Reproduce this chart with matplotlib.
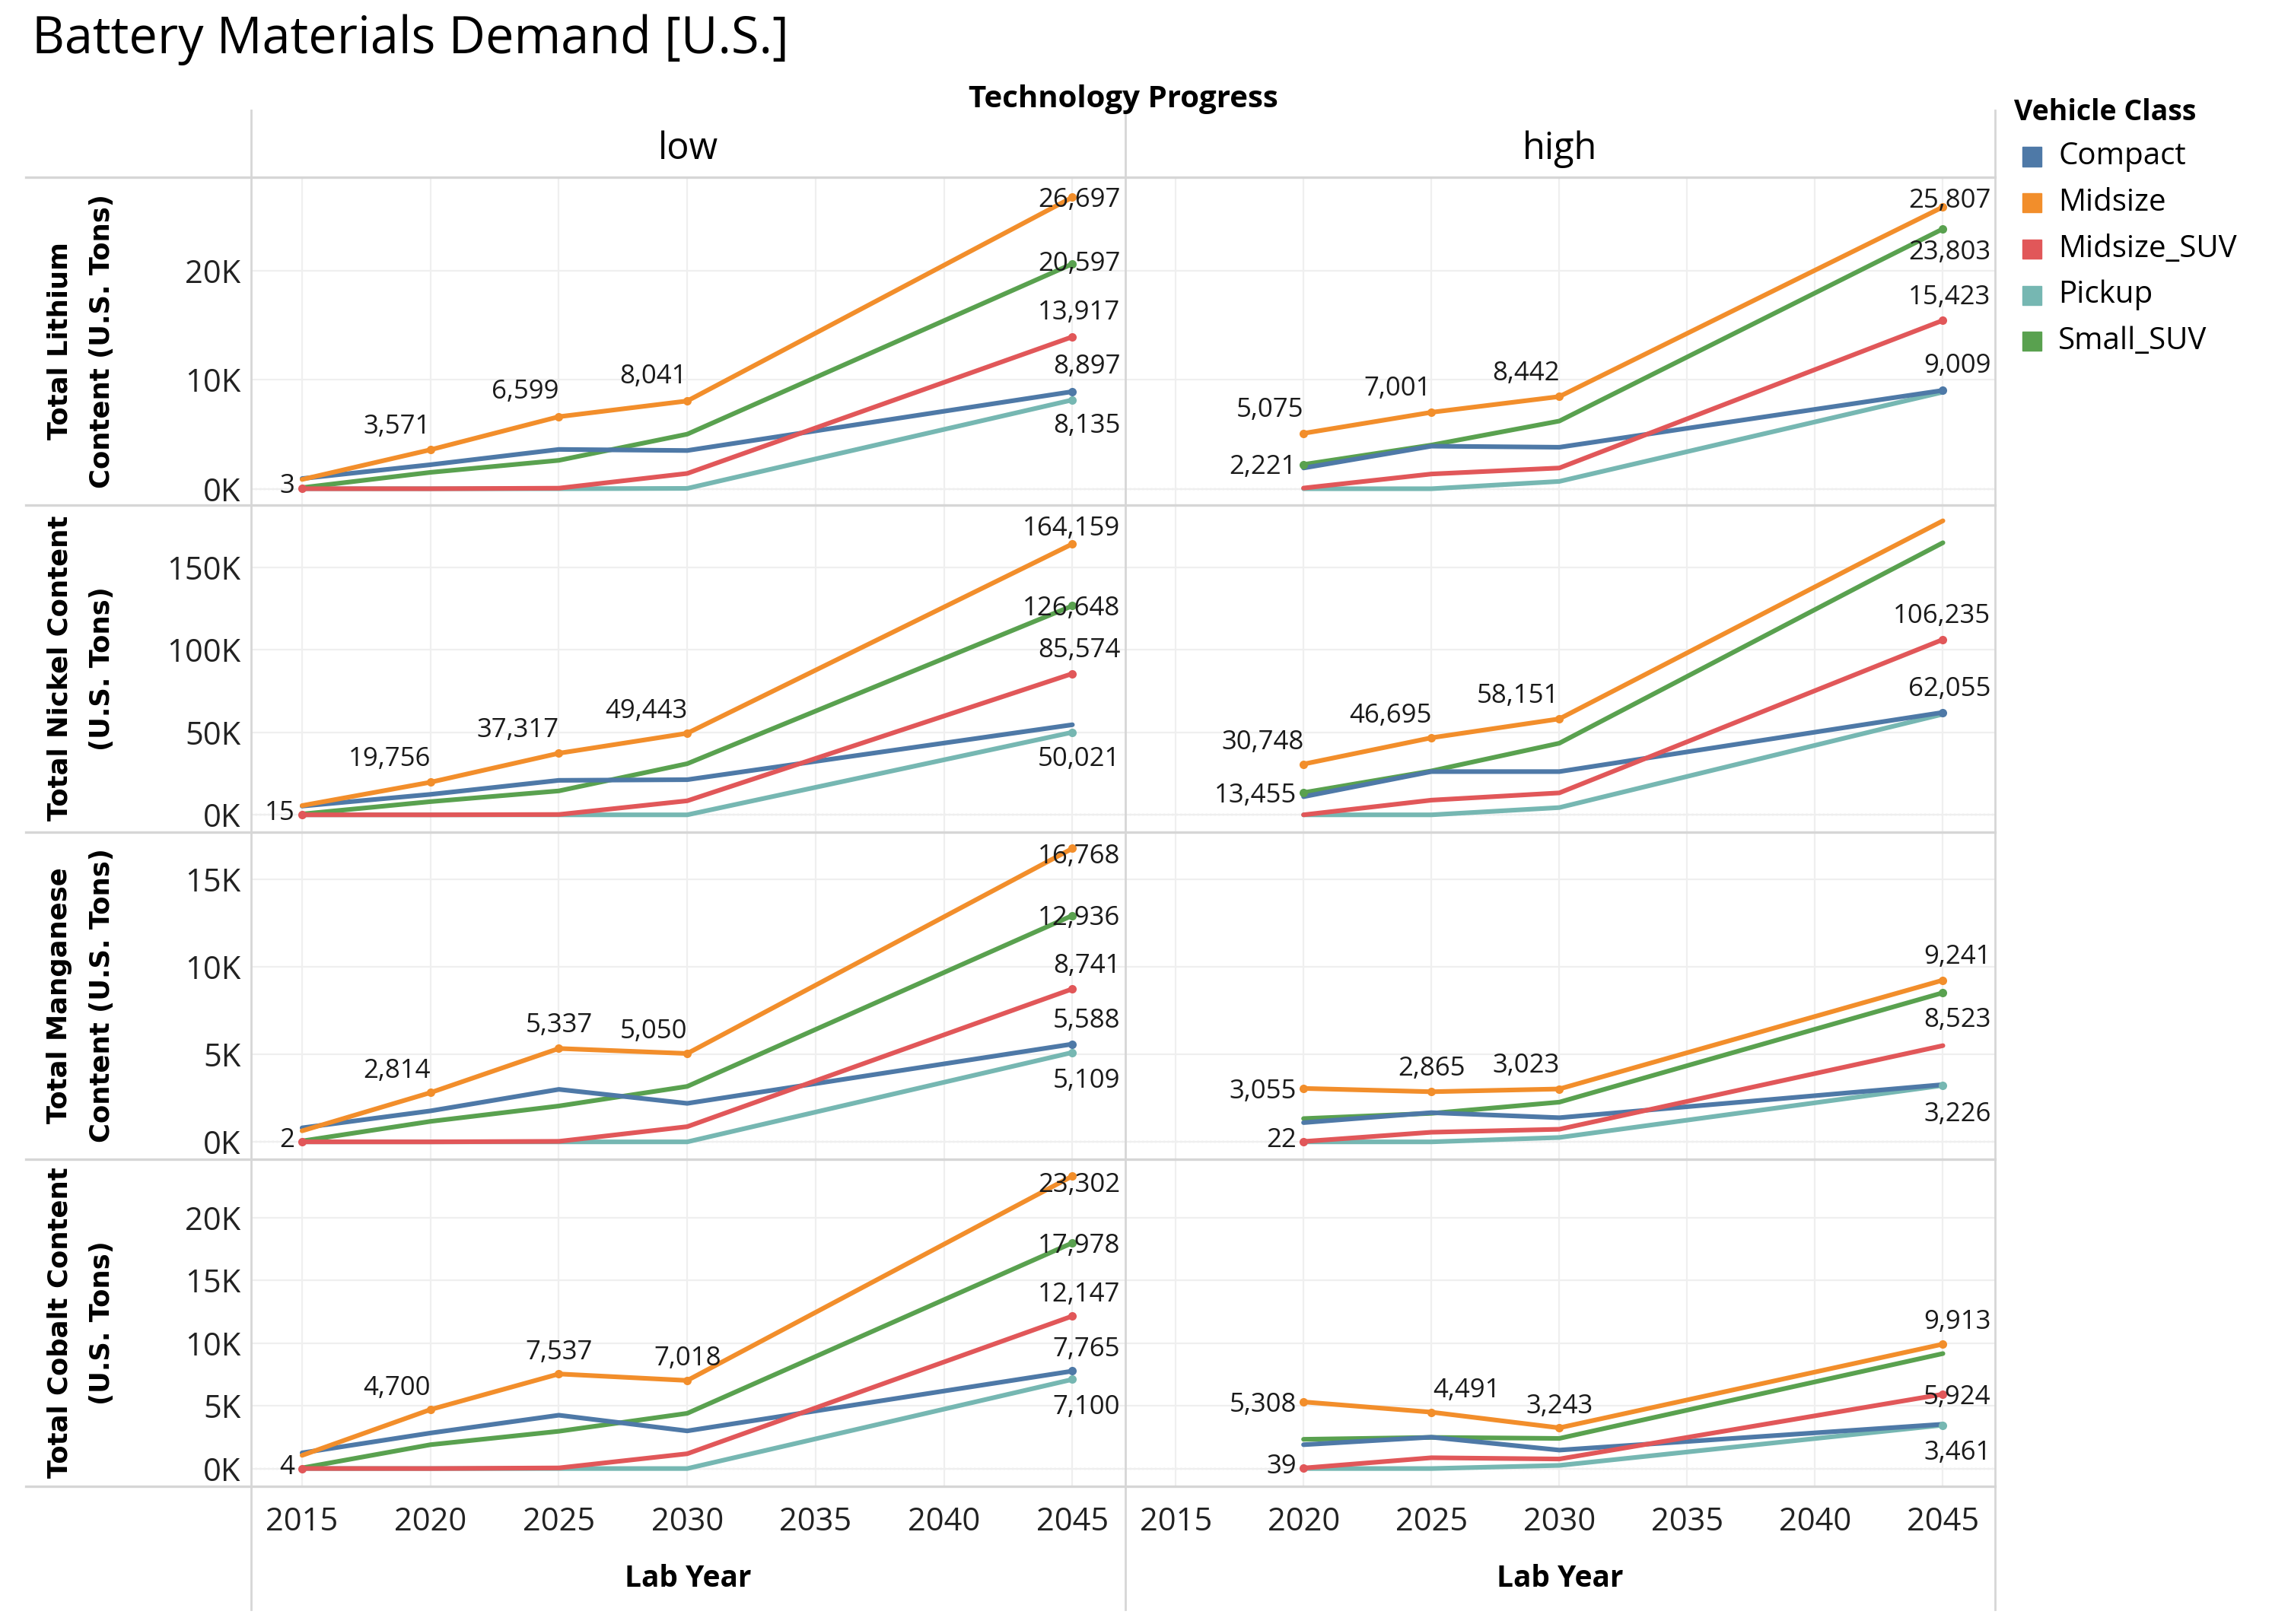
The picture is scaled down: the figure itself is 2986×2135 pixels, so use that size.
import matplotlib
matplotlib.use("Agg")
import matplotlib.pyplot as plt
from matplotlib.lines import Line2D
from matplotlib.patches import Rectangle

# ---- data (U.S. tons) ----
years_low = [2015, 2020, 2025, 2030, 2045]
years_high = [2020, 2025, 2030, 2045]
classes = ["Compact", "Midsize", "Midsize_SUV", "Pickup", "Small_SUV"]

lithium_low = {
    "Compact": [930, 2200, 3600, 3500, 8897],
    "Midsize": [850, 3571, 6599, 8041, 26697],
    "Midsize_SUV": [3, 0, 50, 1400, 13917],
    "Pickup": [0, 0, 0, 30, 8135],
    "Small_SUV": [100, 1500, 2600, 5000, 20597],
}
lithium_high = {
    "Compact": [1900, 3900, 3800, 9009],
    "Midsize": [5075, 7001, 8442, 25807],
    "Midsize_SUV": [60, 1350, 1900, 15423],
    "Pickup": [0, 0, 670, 8850],
    "Small_SUV": [2221, 4000, 6200, 23803],
}
nickel_low = {
    "Compact": [5300, 12400, 20900, 21300, 54600],
    "Midsize": [5600, 19756, 37317, 49443, 164159],
    "Midsize_SUV": [15, 0, 200, 8500, 85574],
    "Pickup": [0, 0, 0, 0, 50021],
    "Small_SUV": [500, 8000, 14500, 31000, 126648],
}
nickel_high = {
    "Compact": [11000, 26200, 26200, 62055],
    "Midsize": [30748, 46695, 58151, 178200],
    "Midsize_SUV": [0, 8900, 13300, 106235],
    "Pickup": [0, 0, 4400, 61000],
    "Small_SUV": [13455, 26600, 43400, 164900],
}
manganese_low = {
    "Compact": [800, 1770, 3000, 2200, 5588],
    "Midsize": [630, 2814, 5337, 5050, 16768],
    "Midsize_SUV": [2, 0, 30, 870, 8741],
    "Pickup": [0, 0, 0, 0, 5109],
    "Small_SUV": [50, 1170, 2050, 3170, 12936],
}
manganese_high = {
    "Compact": [1100, 1670, 1380, 3270],
    "Midsize": [3055, 2865, 3023, 9241],
    "Midsize_SUV": [22, 550, 720, 5500],
    "Pickup": [0, 0, 250, 3226],
    "Small_SUV": [1330, 1630, 2270, 8523],
}
cobalt_low = {
    "Compact": [1250, 2830, 4250, 3000, 7765],
    "Midsize": [1050, 4700, 7537, 7018, 23302],
    "Midsize_SUV": [4, 0, 50, 1180, 12147],
    "Pickup": [0, 0, 0, 0, 7100],
    "Small_SUV": [50, 1900, 2970, 4400, 17978],
}
cobalt_high = {
    "Compact": [1900, 2500, 1470, 3530],
    "Midsize": [5308, 4491, 3243, 9913],
    "Midsize_SUV": [39, 860, 760, 5924],
    "Pickup": [0, 0, 250, 3461],
    "Small_SUV": [2330, 2480, 2400, 9160],
}

row_titles = [("Total Lithium", "Content (U.S. Tons)"),
              ("Total Nickel Content", "(U.S. Tons)"),
              ("Total Manganese", "Content (U.S. Tons)"),
              ("Total Cobalt Content", "(U.S. Tons)")]
row_ticks = [[0, 10000, 20000],
             [0, 50000, 100000, 150000],
             [0, 5000, 10000, 15000],
             [0, 5000, 10000, 15000, 20000]]
col_names = ["low", "high"]
x_ticks = [2015, 2020, 2025, 2030, 2035, 2040, 2045]

panels = [[lithium_low, lithium_high], [nickel_low, nickel_high],
          [manganese_low, manganese_high], [cobalt_low, cobalt_high]]

# ---- style ----
colors = {"Compact": "#4E79A7", "Midsize": "#F28E2B", "Midsize_SUV": "#E15759",
          "Pickup": "#76B7B2", "Small_SUV": "#59A14F"}
draw_order = ["Pickup", "Small_SUV", "Compact", "Midsize_SUV", "Midsize"]
ylims = [(-1470, 28530), (-10500, 187900), (-980, 17700), (-1410, 24660)]
xlim = (2013.02, 2047.05)

# label placement: (class, year, kind, dy in screen px of the small view)
labels = [
    [
        [("Midsize_SUV", 2015, "left", 4), ("Midsize", 2020, "up", 18), ("Midsize", 2025, "up", 19),
         ("Midsize", 2030, "up", 19), ("Midsize", 2045, "end", 0), ("Small_SUV", 2045, "end", 2),
         ("Midsize_SUV", 2045, "end", 18.5), ("Compact", 2045, "end", 19), ("Pickup", 2045, "end", -16)],
        [("Small_SUV", 2020, "left", 0), ("Midsize", 2020, "up", 18), ("Midsize", 2025, "up", 18.5),
         ("Midsize", 2030, "up", 18), ("Midsize", 2045, "end", 6.5), ("Small_SUV", 2045, "end", -14.5),
         ("Midsize_SUV", 2045, "end", 18), ("Compact", 2045, "end", 19)],
    ],
    [
        [("Midsize_SUV", 2015, "left", 3), ("Midsize", 2020, "up", 18), ("Midsize", 2025, "up", 18),
         ("Midsize", 2030, "up", 17), ("Midsize", 2045, "end", 12.5), ("Small_SUV", 2045, "end", 0),
         ("Midsize_SUV", 2045, "end", 18), ("Pickup", 2045, "end", -16.5)],
        [("Small_SUV", 2020, "left", 0), ("Midsize", 2020, "up", 17), ("Midsize", 2025, "up", 17),
         ("Midsize", 2030, "up", 18), ("Midsize_SUV", 2045, "end", 18), ("Compact", 2045, "end", 18)],
    ],
    [
        [("Midsize_SUV", 2015, "left", 3), ("Midsize", 2020, "up", 17), ("Midsize", 2025, "upc", 18),
         ("Midsize", 2030, "up", 17), ("Midsize", 2045, "end", -3.5), ("Small_SUV", 2045, "end", 0),
         ("Midsize_SUV", 2045, "end", 18), ("Compact", 2045, "end", 18), ("Pickup", 2045, "end", -17.5)],
        [("Midsize", 2020, "left", 0), ("Midsize_SUV", 2020, "left", 3), ("Midsize", 2025, "upc", 18),
         ("Midsize", 2030, "up", 18), ("Midsize", 2045, "end", 18), ("Small_SUV", 2045, "end", -17),
         ("Pickup", 2045, "end", -18)],
    ],
    [
        [("Midsize_SUV", 2015, "left", 3), ("Midsize", 2020, "up", 17), ("Midsize", 2025, "upc", 17),
         ("Midsize", 2030, "upc", 17), ("Midsize", 2045, "end", -4), ("Small_SUV", 2045, "end", 0),
         ("Midsize_SUV", 2045, "end", 17), ("Compact", 2045, "end", 17), ("Pickup", 2045, "end", -17)],
        [("Midsize", 2020, "left", 0), ("Midsize_SUV", 2020, "left", 3), ("Midsize", 2025, "upl", 17),
         ("Midsize", 2030, "upc", 17), ("Midsize", 2045, "end", 17), ("Midsize_SUV", 2045, "end", 0),
         ("Pickup", 2045, "end", -17)],
    ],
]

W, H = 2986, 2135
K = 1.371  # small-view px -> points
SANS = ["Open Sans", "DejaVu Sans"]
plt.rcParams["font.family"] = SANS

fig = plt.figure(figsize=(W / 100, H / 100), dpi=100)
fig.patch.set_facecolor("white")

col_x = [(330.2, 1478.6), (1478.6, 2622.4)]
row_y = [(233.1, 663.6), (663.6, 1094.0), (1094.0, 1523.7), (1523.7, 1953.9)]


def fx(x):
    return x / W


def fy(y):
    return 1 - y / H


def kfmt(v):
    return "%dK" % (v // 1000)


for r in range(4):
    for c in range(2):
        x0, x1 = col_x[c]
        y0, y1 = row_y[r]
        ax = fig.add_axes([fx(x0), fy(y1), (x1 - x0) / W, (y1 - y0) / H])
        ax.patch.set_alpha(0)
        for s in ax.spines.values():
            s.set_visible(False)
        ax.set_xlim(*xlim)
        ax.set_ylim(*ylims[r])
        ax.set_xticks(x_ticks)
        ax.set_yticks(row_ticks[r])
        ax.grid(True, color="#efefef", lw=1.6, zorder=0)
        ax.axhline(0, color="#c8c8c8", lw=1.6, ls=(0, (1, 1.5)), zorder=1)
        ax.tick_params(length=0, labelsize=30, colors="#222222")
        ax.tick_params(axis="y", pad=10)
        ax.tick_params(axis="x", pad=19)
        if c == 0:
            ax.set_yticklabels([kfmt(v) for v in row_ticks[r]])
        else:
            ax.set_yticklabels([])
        if r < 3:
            ax.set_xticklabels([])

        data = panels[r][c]
        yrs = years_low if c == 0 else years_high
        for name in draw_order:
            ax.plot(yrs, data[name], color=colors[name], lw=4.4, zorder=3,
                    solid_capstyle="round", solid_joinstyle="round")

        for name, yr, kind, dy in labels[r][c]:
            v = data[name][yrs.index(yr)]
            ax.plot([yr], [v], "o", color=colors[name], ms=8, mec="none", zorder=4)
            if kind == "up":
                dx, ha = 0, "right"
            elif kind == "upc":
                dx, ha = 0, "center"
            elif kind == "upl":
                dx, ha = 1, "left"
            elif kind == "left":
                dx, ha = -5, "right"
            else:
                dx, ha = 33, "right"
            ax.annotate(f"{v:,}", (yr, v), xytext=(dx * K, (dy - 2) * K), textcoords="offset points",
                        ha=ha, va="center", fontsize=25, color="#1a1a1a", zorder=5)

# row titles
for r in range(4):
    yc = (row_y[r][0] + row_y[r][1]) / 2
    fig.text(fx(78.5), fy(yc), row_titles[r][0], rotation=90, ha="center", va="center",
             fontsize=25.5, fontweight="bold", family="DejaVu Sans")
    fig.text(fx(134), fy(yc), row_titles[r][1], rotation=90, ha="center", va="center",
             fontsize=25.5, fontweight="bold", family="DejaVu Sans")

# frame lines (pane borders)
line_col = "#d6d6d6"
for x in [330.2, 1478.6, 2622.4]:
    fig.add_artist(Line2D([fx(x), fx(x)], [fy(145), fy(2116)], color=line_col, lw=2))
for y in [233.1, 663.6, 1094.0, 1523.7, 1953.9]:
    fig.add_artist(Line2D([fx(33.5), fx(2622.4)], [fy(y), fy(y)], color=line_col, lw=2.4))

# headers
fig.text(fx(42), fy(52), "Battery Materials Demand [U.S.]", fontsize=48, ha="left", va="center")
fig.text(fx(1476), fy(131), "Technology Progress", fontsize=29, fontweight="bold",
         ha="center", va="center")
for c in range(2):
    xc = (col_x[c][0] + col_x[c][1]) / 2
    fig.text(fx(xc), fy(196), col_names[c], fontsize=35, ha="center", va="center")
    fig.text(fx(xc), fy(2076), "Lab Year", fontsize=28, fontweight="bold", ha="center", va="center")

# legend
fig.text(fx(2647), fy(148), "Vehicle Class", fontsize=27, fontweight="bold", ha="left", va="center")
for i, name in enumerate(classes):
    yc = 206 + i * 60.7
    fig.add_artist(Rectangle((fx(2658), fy(yc + 12.5)), 25 / W, 25 / H, color=colors[name],
                             transform=fig.transFigure))
    fig.text(fx(2705), fy(yc), name, fontsize=29, ha="left", va="center")

fig.savefig("out.png", dpi=100, facecolor="white")
